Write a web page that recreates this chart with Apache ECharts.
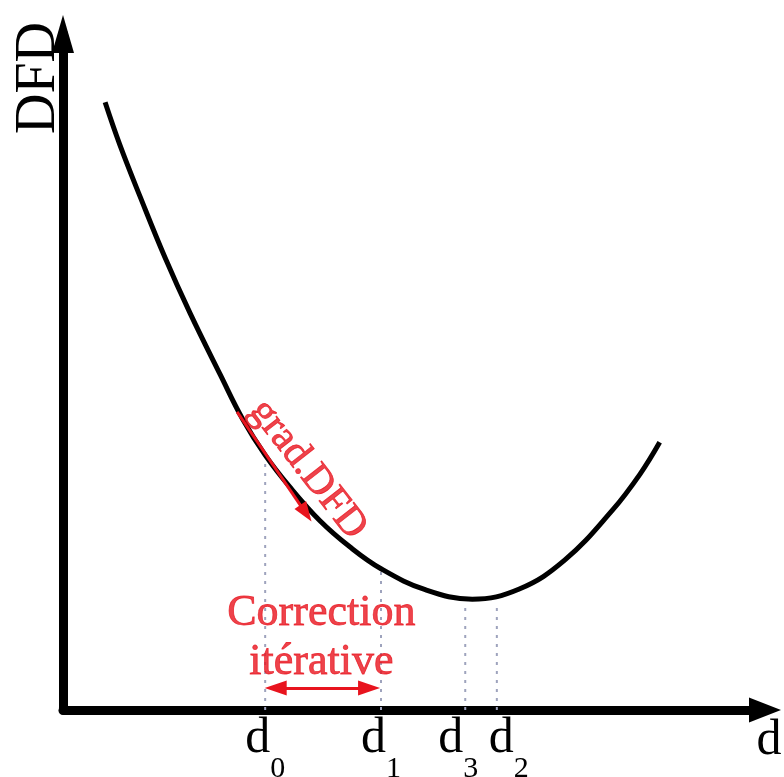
<!DOCTYPE html>
<html>
<head>
<meta charset="utf-8">
<script src="https://cdn.jsdelivr.net/npm/echarts@6/dist/echarts.min.js"></script>
<style>
html,body{margin:0;padding:0;background:#fff;}
#chart{width:784px;height:777px;}
</style>
</head>
<body>
<div id="chart"></div>
<script>
// Curve DFD(d)
const curveX = [6.0, 8.1, 11.0, 14.5, 18.1, 22.4, 25.6, 28.8, 32.3, 36.6, 40.9, 45.3, 51.6, 58.3, 65.0, 71.5, 78.3, 82.2, 85.0];
const curveY = [89.9, 83.6, 75.9, 67.0, 58.7, 49.6, 43.0, 37.7, 33.0, 28.0, 24.1, 20.9, 17.8, 16.4, 17.9, 22.2, 29.6, 34.9, 39.6];
// Iteration markers d0, d1, d3, d2
const markerNames = ['0', '1', '3', '2'];
const markerX = [28.8, 45.3, 57.3, 61.8];
const markerTop = [37.7, 20.9, 15.6, 15.6];
// Annotations
const correctionText = ['Correction', 'itérative'];
const correctionPos = [36.8, 10.7];
const correctionArrow = [[30.3, 3.25], [43.6, 3.25]];
const gradText = 'grad.DFD';
const gradPos = [34.9, 35.6];
const gradArrow = [[24.8, 44.1], [34.6, 29.1]];

// label style: horizontal nudges (px) so crowded labels spread apart
const labelNudge = [0, 0, -7, 12];

const RED = '#e8141e';
const SERIF = '"Liberation Serif", "Times New Roman", serif';

const chart = echarts.init(document.getElementById('chart'), null, {renderer: 'canvas'});

const dotted = markerX.map((x, i) => ({
  type: 'line',
  data: [[x, 0], [x, markerTop[i]]],
  symbol: 'none',
  silent: true,
  z: 1,
  lineStyle: {color: '#9ea3bd', width: 2, type: [3, 6]}
}));

const labelFormatter = (v) => {
  const i = markerX.indexOf(v);
  return '{d' + i + '|d}{s' + i + '|' + markerNames[i] + '}';
};
const labelRich = {};
markerX.forEach((x, i) => {
  const n = labelNudge[i];
  labelRich['d' + i] = {fontFamily: SERIF, fontSize: 50, lineHeight: 50, color: '#000', verticalAlign: 'top',
    padding: [0, 0, 0, n > 0 ? 2 * n : 0]};
  labelRich['s' + i] = {fontFamily: SERIF, fontSize: 30, lineHeight: 30, color: '#000', verticalAlign: 'top',
    padding: [40, n < 0 ? -2 * n : 0, 0, 0]};
});
// two label rows so that close labels (d3, d2) are both shown
const labelsA = [markerX[0], markerX[2]];
const labelsB = [markerX[1], markerX[3]];

chart.setOption({
  animation: false,
  backgroundColor: '#ffffff',
  grid: {left: 63, right: 19, top: 34, bottom: 67, containLabel: false, outerBoundsMode: 'none'},
  xAxis: [{
    type: 'value', min: 0, max: 100,
    position: 'bottom',
    name: 'd',
    nameLocation: 'end',
    nameGap: 4,
    nameMoveOverlap: false,
    nameTextStyle: {fontFamily: SERIF, fontSize: 50, color: '#000', align: 'center', verticalAlign: 'top', padding: [6, 0, 0, 0], lineHeight: 50},
    axisLine: {onZero: false, symbol: ['none', 'triangle'], symbolSize: [25, 32], lineStyle: {color: '#000', width: 9}},
    axisTick: {show: false},
    splitLine: {show: false},
    axisLabel: {customValues: labelsA, margin: 4, hideOverlap: false, formatter: labelFormatter, rich: labelRich}
  }, {
    type: 'value', min: 0, max: 100,
    position: 'bottom',
    offset: 0,
    axisLine: {show: false, onZero: false},
    axisTick: {show: false},
    splitLine: {show: false},
    axisLabel: {customValues: labelsB, margin: 4, hideOverlap: false, formatter: labelFormatter, rich: labelRich}
  }],
  yAxis: {
    type: 'value', min: 0, max: 100,
    name: 'DFD',
    nameLocation: 'end',
    nameRotate: 90,
    nameGap: 12,
    nameMoveOverlap: false,
    nameTextStyle: {fontFamily: SERIF, fontSize: 56, color: '#000', align: 'right', verticalAlign: 'bottom', lineHeight: 48},
    axisLine: {onZero: false, symbol: ['none', 'triangle'], symbolSize: [22, 38], lineStyle: {color: '#000', width: 9}},
    axisTick: {show: false},
    splitLine: {show: false},
    axisLabel: {show: false}
  },
  series: [
    ...dotted,
    {
      type: 'line',
      data: [],
      symbol: 'none',
      silent: true,
      z: 2,
      markLine: {
        silent: true,
        symbol: ['none', 'triangle'],
        symbolSize: [14, 20],
        label: {show: false},
        lineStyle: {color: RED, width: 3, type: 'solid'},
        data: [[{coord: gradArrow[0]}, {coord: gradArrow[1]}]]
      }
    },
    {
      type: 'line',
      data: curveX.map((x, i) => [x, curveY[i]]),
      symbol: 'none',
      smooth: 0.4,
      silent: true,
      z: 3,
      lineStyle: {color: '#000', width: 5}
    },
    {
      type: 'line',
      data: [],
      symbol: 'none',
      silent: true,
      z: 4,
      markLine: {
        silent: true,
        symbol: ['triangle', 'triangle'],
        symbolSize: [15, 22],
        label: {show: false},
        lineStyle: {color: RED, width: 3, type: 'solid'},
        data: [[{coord: correctionArrow[0]}, {coord: correctionArrow[1]}]]
      }
    },
    {
      type: 'scatter',
      symbolSize: 0,
      silent: true,
      z: 5,
      data: [
        {value: correctionPos, label: {formatter: correctionText.join('\n'), rotate: 0, fontSize: 44, lineHeight: 49}},
        {value: gradPos, label: {formatter: gradText, rotate: -52, fontSize: 41, lineHeight: 41}}
      ],
      label: {
        show: true,
        position: 'inside',
        align: 'center',
        verticalAlign: 'middle',
        fontFamily: SERIF,
        color: RED,
        textBorderColor: RED,
        textBorderWidth: 0.8
      }
    }
  ]
});
</script>
</body>
</html>
